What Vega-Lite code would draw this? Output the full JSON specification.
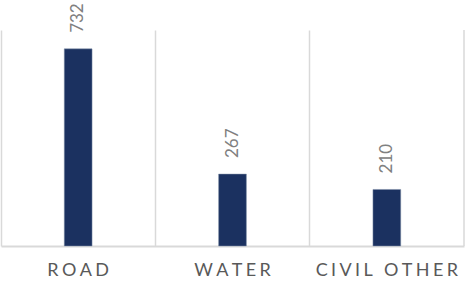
{
  "$schema": "https://vega.github.io/schema/vega-lite/v6.json",
  "width": 463,
  "height": 216,
  "autosize": "none",
  "padding": {"left": 1, "top": 30, "right": 8, "bottom": 40},
  "config": {"view": {"stroke": null}, "font": "Lato"},
  "data": {"values": [
    {"category": "ROAD", "value": 732},
    {"category": "WATER", "value": 267},
    {"category": "CIVIL OTHER", "value": 210}
  ]},
  "layer": [
    {
      "mark": {"type": "bar", "color": "#1b3160", "stroke": "#8090a8", "strokeWidth": 0.5, "width": {"band": 0.18}},
      "encoding": {
        "x": {"field": "category", "type": "nominal", "sort": null,
          "scale": {"paddingInner": 0, "paddingOuter": 0},
          "axis": {"title": null, "labelAngle": 0, "bandPosition": 0, "grid": true, "gridColor": "#d9d9d9", "gridWidth": 1.5,
            "ticks": false, "domainColor": "#d9d9d9", "domainWidth": 2, "labelFont": "Lato", "labelFontSize": 18, "labelColor": "#595959", "labelPadding": 15,
            "labelExpr": "join(split(datum.label, ''), '\u2009\u200a')"}},
        "y": {"field": "value", "type": "quantitative", "scale": {"domain": [0, 802], "nice": false}, "axis": null}
      }
    },
    {
      "mark": {"type": "text", "angle": 270, "align": "left", "baseline": "middle", "dx": 16, "fontSize": 17, "color": "#808080", "font": "Lato"},
      "encoding": {
        "x": {"field": "category", "type": "nominal", "sort": null},
        "y": {"field": "value", "type": "quantitative"},
        "text": {"field": "value", "type": "quantitative"}
      }
    },
    {
      "transform": [{"filter": "datum.category === 'CIVIL OTHER'"}],
      "mark": {"type": "rule", "color": "#d9d9d9", "strokeWidth": 1.5},
      "encoding": {
        "x": {"field": "category", "type": "nominal", "sort": null, "bandPosition": 1},
        "y": {"datum": 0},
        "y2": {"datum": 802}
      }
    }
  ]
}
